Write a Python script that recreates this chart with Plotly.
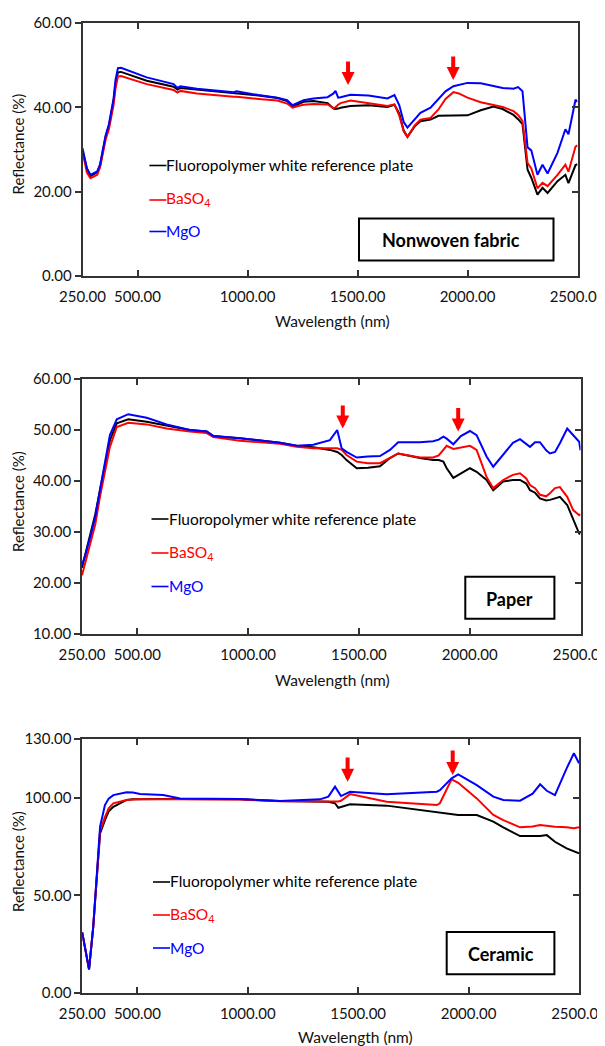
import plotly.graph_objects as go

# ---------------- data ----------------
series_names = ["Fluoropolymer white reference plate", "BaSO<sub>4</sub>", "MgO"]
series_colors = ["#000000", "#ff0000", "#0000ff"]
panel_labels = ["Nonwoven fabric", "Paper", "Ceramic"]

x_tickvals = [250, 500, 1000, 1500, 2000, 2500]
x_ticktext = ["250.00", "500.00", "1000.00", "1500.00", "2000.00", "2500.00"]

# Panel 1: Nonwoven fabric
wl_nonwoven = [250, 270, 286, 317, 330, 345, 355, 370, 391, 400, 411, 425, 542, 664, 682, 695,
               770, 937, 950, 1050, 1136, 1180, 1205, 1230, 1255, 1300, 1364, 1391, 1400, 1412,
               1423, 1468, 1550, 1636, 1668, 1690, 1710, 1727, 1760, 1786, 1832, 1868, 1900,
               1936, 1960, 2000, 2060, 2118, 2160, 2209, 2230, 2250, 2273, 2290, 2318, 2341,
               2364, 2409, 2445, 2459, 2491, 2500]
fluoro_nonwoven = [29.8, 25.5, 23.7, 24.6, 26.3, 30.0, 33.0, 35.5, 41.5, 45.5, 48.3, 48.4, 46.3,
                   44.9, 44.2, 44.6, 44.2, 43.4, 43.4, 42.8, 42.2, 41.5, 40.2, 40.8, 41.3, 41.5,
                   41.0, 39.7, 39.6, 39.7, 39.9, 40.3, 40.5, 40.1, 40.6, 38.5, 34.5, 33.0, 35.5,
                   36.7, 37.1, 38.0, 38.0, 38.0, 38.0, 38.1, 39.3, 40.2, 39.6, 38.2, 37.2, 36.0,
                   25.2, 23.3, 19.3, 20.9, 19.7, 22.5, 24.0, 22.0, 26.3, 26.5]
baso4_nonwoven = [29.5, 24.5, 23.2, 24.0, 25.8, 29.5, 32.3, 34.8, 40.5, 44.5, 47.3, 47.4, 45.5,
                  44.1, 43.5, 43.9, 43.3, 42.5, 42.5, 42.0, 41.6, 40.9, 39.9, 40.3, 40.6, 40.8,
                  40.7, 39.8, 40.0, 40.6, 41.0, 41.6, 41.0, 40.3, 40.7, 38.0, 34.3, 33.0, 35.7,
                  37.1, 37.5, 39.5, 42.0, 43.6, 43.3, 42.3, 41.2, 40.6, 40.1, 39.1, 38.2, 36.8,
                  26.8, 25.5, 20.8, 22.1, 21.3, 24.0, 26.4, 24.7, 30.7, 31.0]
mgo_nonwoven = [30.3, 25.5, 24.0, 24.8, 26.5, 30.2, 33.3, 36.0, 42.0, 46.5, 49.3, 49.4, 47.1,
                45.5, 44.6, 45.0, 44.4, 43.6, 43.8, 42.9, 42.3, 41.7, 40.5, 41.1, 41.7, 42.1,
                42.4, 43.3, 43.9, 42.3, 42.4, 43.0, 42.8, 42.1, 42.9, 40.5, 36.5, 35.2, 37.2,
                38.7, 39.9, 42.0, 43.8, 45.0, 45.3, 45.8, 45.7, 45.1, 44.6, 44.4, 44.8, 43.8,
                30.5, 29.8, 24.0, 26.4, 24.3, 29.2, 34.8, 33.6, 41.8, 41.3]

# Panel 2: Paper
wl_paper = [250, 265, 290, 310, 331, 354, 376, 407, 459, 542, 632, 737, 813, 843, 963, 1144,
            1219, 1294, 1369, 1402, 1422, 1444, 1490, 1540, 1595, 1640, 1677, 1775, 1835,
            1860, 1881, 1896, 1926, 1960, 2001, 2031, 2076, 2106, 2151, 2195, 2227, 2255,
            2272, 2295, 2317, 2345, 2362, 2385, 2407, 2440, 2467, 2494, 2500]
fluoro_paper = [23.0, 25.5, 30.0, 33.5, 38.2, 43.5, 48.0, 51.3, 52.1, 51.6, 50.8, 50.0, 49.7,
                48.8, 48.4, 47.5, 46.9, 46.6, 46.1, 45.7, 45.1, 44.1, 42.5, 42.6, 42.9, 44.5,
                45.4, 44.5, 44.1, 44.1, 43.8, 42.5, 40.6, 41.5, 42.5, 41.8, 40.2, 38.2, 39.9,
                40.2, 40.2, 39.5, 38.2, 37.7, 36.6, 36.2, 36.3, 36.6, 36.9, 35.3, 32.4, 29.7, 29.6]
baso4_paper = [21.5, 24.0, 28.5, 31.5, 36.9, 41.8, 46.7, 50.6, 51.4, 51.1, 50.3, 49.7, 49.4,
               48.6, 47.9, 47.3, 46.7, 46.4, 46.3, 46.4, 46.1, 45.1, 43.8, 43.5, 43.5, 44.5,
               45.4, 44.6, 44.6, 45.0, 46.0, 46.9, 46.3, 46.6, 46.9, 46.1, 40.8, 38.6, 40.2,
               41.2, 41.5, 40.5, 39.2, 38.6, 37.3, 37.0, 37.6, 38.6, 38.8, 36.9, 34.3, 33.3, 33.5]
mgo_paper = [23.5, 25.5, 29.5, 33.0, 38.2, 43.7, 49.0, 52.1, 53.1, 52.4, 51.1, 50.0, 49.7,
             48.8, 48.4, 47.5, 46.9, 47.1, 48.0, 50.0, 46.4, 45.7, 44.6, 44.8, 44.9, 46.1,
             47.6, 47.6, 47.8, 48.1, 48.7, 48.3, 47.2, 48.8, 49.8, 49.0, 44.8, 42.8, 45.1,
             47.5, 48.2, 47.3, 46.7, 47.6, 47.6, 46.0, 45.4, 45.7, 47.4, 50.3, 49.0, 47.7, 46.0]

# Panel 3: Ceramic
wl_ceramic = [250, 265, 281, 300, 318, 331, 353, 370, 391, 451, 480, 512, 617, 693, 965, 1146,
              1327, 1365, 1395, 1410, 1422, 1463, 1629, 1856, 1870, 1923, 1953, 2037, 2112,
              2157, 2233, 2290, 2324, 2354, 2391, 2444, 2477, 2500]
fluoro_ceramic = [31.0, 22.0, 12.1, 33.9, 60.0, 81.7, 88.5, 93.0, 95.3, 98.8, 99.2, 99.3, 99.3,
                  99.3, 99.1, 98.3, 97.9, 97.9, 97.1, 94.8, 95.2, 96.6, 95.9, 92.8, 92.5, 91.6,
                  91.1, 91.1, 87.7, 84.8, 80.3, 80.3, 80.3, 80.8, 77.4, 74.0, 72.3, 71.5]
baso4_ceramic = [31.0, 22.0, 12.1, 33.9, 61.0, 83.0, 90.0, 94.5, 97.1, 98.8, 99.0, 99.2, 99.2,
                 99.1, 99.0, 98.2, 97.9, 97.9, 97.9, 98.0, 98.4, 101.8, 97.9, 96.2, 97.1, 109.4,
                 107.6, 99.6, 91.1, 88.5, 84.8, 85.2, 86.0, 85.5, 85.1, 84.8, 84.3, 84.8]
mgo_ceramic = [31.0, 22.0, 12.1, 33.9, 61.3, 85.1, 96.2, 99.5, 101.3, 102.7, 102.6, 101.8, 101.3,
               99.6, 99.3, 98.3, 99.1, 100.5, 105.6, 103.0, 100.8, 103.0, 101.7, 103.0, 103.8,
               109.9, 111.9, 106.4, 100.5, 98.8, 98.4, 102.0, 106.8, 103.5, 101.3, 115.0, 122.7,
               117.6]

# arrow (wavelength, tip reflectance, tail reflectance)
arrows_nonwoven = [(1457, 45.3, 51.2), (1935, 46.5, 52.4)]
arrows_paper = [(1427, 50.3, 55.1), (1948, 49.7, 54.6)]
arrows_ceramic = [(1452, 108.1, 121.3), (1928, 111.6, 124.9)]

y_ranges = [[0, 60], [10, 60], [0, 130]]
y_tickvals = [[0, 20, 40, 60], [10, 20, 30, 40, 50, 60], [0, 50, 100, 130]]

# ---------------- layout helpers ----------------
# the page body has an 8px margin, so the figure starts at (8, 8) in the window
OFF = 8
W, H = 605 - OFF, 1046 - OFF
def px(v):
    return (v - OFF) / W
def py(v):
    return 1 - (v - OFF) / H

x_domains = [[82.5, 577.5], [82, 580.5], [82.2, 579]]
y_domains = [[23, 276], [379, 634], [739, 993]]
legend_x = [149.4, 151.5, 153]
legend_rows = [[165, 199.5, 231], [518.5, 552.5, 586], [881.5, 914.5, 947.5]]
boxes = [[359, 218.5, 553.5, 260.5], [465.3, 576.7, 554.4, 618.7], [446.7, 932, 554.4, 974.3]]
box_text_pos = [[451, 240.5], [509.5, 599], [500.5, 954]]
xtitle_pos = [[333, 321], [333, 680], [355, 1037]]
ytitle_pos = [[17.5, 144], [17.5, 501.5], [17.5, 861.5]]

FONT = "Lato"
AXCOL = "#333333"
TXT = "#111111"

panels = [
    (wl_nonwoven, [fluoro_nonwoven, baso4_nonwoven, mgo_nonwoven], arrows_nonwoven),
    (wl_paper, [fluoro_paper, baso4_paper, mgo_paper], arrows_paper),
    (wl_ceramic, [fluoro_ceramic, baso4_ceramic, mgo_ceramic], arrows_ceramic),
]

fig = go.Figure()
annotations = []
shapes = []
layout = {}

for i, (wl, ys, arrows) in enumerate(panels):
    n = i + 1
    xa = "x" if n == 1 else f"x{n}"
    ya = "y" if n == 1 else f"y{n}"
    yr = f"y{n + 3}"
    for name, vals, col in zip(series_names, ys, series_colors):
        fig.add_trace(go.Scatter(x=wl, y=vals, mode="lines", name=name,
                                 line=dict(color=col, width=2), xaxis=xa, yaxis=ya,
                                 showlegend=False))
    # dummy trace for right-hand tick axis
    fig.add_trace(go.Scatter(x=[None], y=[None], xaxis=xa, yaxis=yr, showlegend=False,
                             hoverinfo="skip"))

    xkey = "xaxis" if n == 1 else f"xaxis{n}"
    ykey = "yaxis" if n == 1 else f"yaxis{n}"
    layout[xkey] = dict(domain=[px(x_domains[i][0]), px(x_domains[i][1])], anchor=ya,
                        range=[250, 2500], tickvals=x_tickvals, ticktext=x_ticktext,
                        ticks="inside", ticklen=6, tickwidth=1.5, tickcolor=AXCOL,
                        showline=True, linecolor=AXCOL, linewidth=1.5, mirror="ticks",
                        showgrid=False, zeroline=False, automargin=False,
                        ticklabelstandoff=6, ticklabeloverflow="allow",
                        tickfont=dict(family=FONT, size=15, color=TXT))
    layout[ykey] = dict(domain=[py(y_domains[i][1]), py(y_domains[i][0])], anchor=xa,
                        range=y_ranges[i], tickvals=y_tickvals[i], tickformat=".2f",
                        ticks="outside", ticklen=6, tickwidth=1.5, tickcolor=AXCOL,
                        showline=True, linecolor=AXCOL, linewidth=1.5, mirror=True,
                        showgrid=False, zeroline=False, automargin=False,
                        ticklabeloverflow="allow",
                        tickfont=dict(family=FONT, size=15, color=TXT))
    layout[f"yaxis{n + 3}"] = dict(overlaying=ya, side="right", anchor=xa,
                                   range=y_ranges[i], tickvals=y_tickvals[i],
                                   ticks="inside", ticklen=6, tickwidth=1.5, tickcolor=AXCOL,
                                   showticklabels=False, showline=False, showgrid=False,
                                   zeroline=False, automargin=False)

    # legend-like labels: short coloured line + coloured text
    for name, col, row in zip(series_names, series_colors, legend_rows[i]):
        shapes.append(dict(type="line", xref="paper", yref="paper",
                           x0=px(legend_x[i]), x1=px(legend_x[i] + 17),
                           y0=py(row + 0.5), y1=py(row + 0.5),
                           line=dict(color=col, width=1.6)))
        annotations.append(dict(xref="paper", yref="paper", x=px(legend_x[i] + 17), y=py(row),
                                xanchor="left", yanchor="middle", showarrow=False,
                                text=name, xshift=-2,
                                font=dict(family=FONT, size=15.5, color=col)))
    # label box
    bx0, by0, bx1, by1 = boxes[i]
    shapes.append(dict(type="rect", xref="paper", yref="paper", x0=px(bx0), x1=px(bx1),
                       y0=py(by1), y1=py(by0), line=dict(color="#000000", width=2)))
    annotations.append(dict(xref="paper", yref="paper", x=px(box_text_pos[i][0]),
                            y=py(box_text_pos[i][1]), xanchor="center", yanchor="middle",
                            showarrow=False, text="<b>" + panel_labels[i] + "</b>",
                            font=dict(family=FONT, size=18, color="#000000")))
    # axis titles
    annotations.append(dict(xref="paper", yref="paper", x=px(xtitle_pos[i][0]),
                            y=py(xtitle_pos[i][1]), xanchor="center", yanchor="middle",
                            showarrow=False, text="Wavelength (nm)",
                            font=dict(family=FONT, size=15.5, color=TXT)))
    annotations.append(dict(xref="paper", yref="paper", x=px(ytitle_pos[i][0]),
                            y=py(ytitle_pos[i][1]), xanchor="center", yanchor="middle",
                            showarrow=False, text="Reflectance (%)", textangle=-90,
                            font=dict(family=FONT, size=15, color=TXT)))
    # red arrows
    for (ax_wl, tip, tail) in arrows:
        annotations.append(dict(xref=xa, yref=ya, x=ax_wl, y=tip, axref=xa, ayref=ya,
                                ax=ax_wl, ay=tail, text="", showarrow=True,
                                arrowhead=2, arrowsize=0.65, arrowwidth=4,
                                arrowcolor="#ff0000", standoff=0))

fig.update_layout(**layout)
fig.update_layout(width=W, height=H, margin=dict(l=0, r=0, t=0, b=0),
                  paper_bgcolor="white", plot_bgcolor="white",
                  annotations=annotations, shapes=shapes, showlegend=False,
                  font=dict(family=FONT))

fig.write_html("out.html")
